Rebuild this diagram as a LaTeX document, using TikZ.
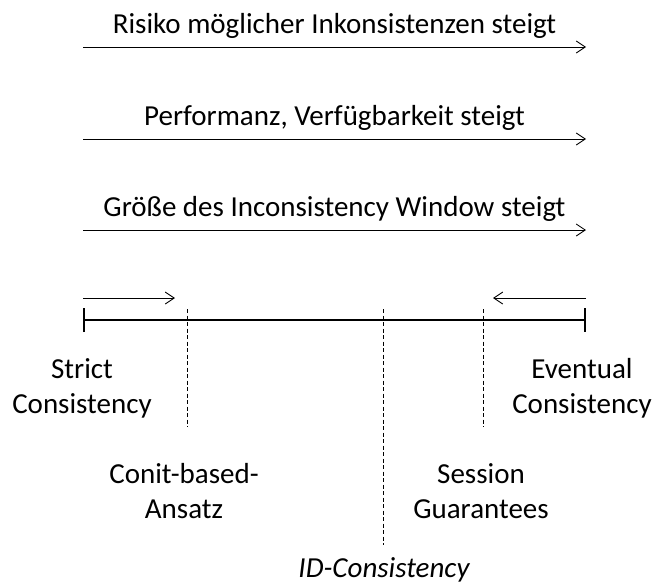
\documentclass[tikz,border=0pt]{standalone}
\usepackage{fontspec}
\setmainfont{Carlito}
\usetikzlibrary{arrows.meta,calc}

\tikzset{
	trend/.style={line width=0.9pt, -{Straight Barb[length=9pt,width=12pt]}},
	lbl/.style={font=\fontsize{29}{35}\selectfont, align=center},
	sep/.style={line width=0.8pt, dash pattern=on 4pt off 2.5pt},
}

\begin{document}
\begin{tikzpicture}[x=1pt, y=-1pt]
	\useasboundingbox (0,0) rectangle (653,587);
	\def\xL{83};
	\def\xR{586};
%
	\coordinate (r1) at (\xL,47);  \coordinate (r2) at (\xR,47);
	\coordinate (p1) at (\xL,139); \coordinate (p2) at (\xR,139);
	\coordinate (g1) at (\xL,230); \coordinate (g2) at (\xR,230);
	\draw[trend] (r1) -- node[lbl, above=5pt] {Risiko möglicher Inkonsistenzen steigt} (r2);
	\draw[trend] (p1) -- node[lbl, above=5pt] {Performanz, Verfügbarkeit steigt} (p2);
	\draw[trend] (g1) -- node[lbl, above=5pt] {Größe des Inconsistency Window steigt} (g2);
%
	\coordinate (sa) at (\xL,298); \coordinate (sb) at (175,298);
	\coordinate (ea) at (\xR,298); \coordinate (eb) at (493,298);
	\draw[trend] (sa) -- (sb);
	\draw[trend] (ea) -- (eb);
%
	\coordinate (L) at (\xL,320);
	\coordinate (R) at (\xR,320);
	\draw[line width=2pt, {Bar[width=24pt]}-{Bar[width=24pt]}] (L) -- (R);
%
	\coordinate (c1) at (187,309); \coordinate (c2) at (187,427);
	\coordinate (i1) at (383,309); \coordinate (i2) at (383,545);
	\coordinate (s1) at (483,309); \coordinate (s2) at (483,427);
	\draw[sep] (c1) -- (c2);
	\draw[sep] (i1) -- (i2);
	\draw[sep] (s1) -- (s2);
%
	\node[lbl] (strict) at (82,388) {Strict\\Consistency};
	\node[lbl] (event) at (582,388) {Eventual\\Consistency};
	\node[lbl] (conit) at (184,491) {Conit-based-\\Ansatz};
	\node[lbl] (sess) at (481,491) {Session\\Guarantees};
	\node[lbl, font=\fontsize{29}{35}\selectfont\itshape] (idc) at (384,570) {ID-Consistency};
\end{tikzpicture}
\end{document}
